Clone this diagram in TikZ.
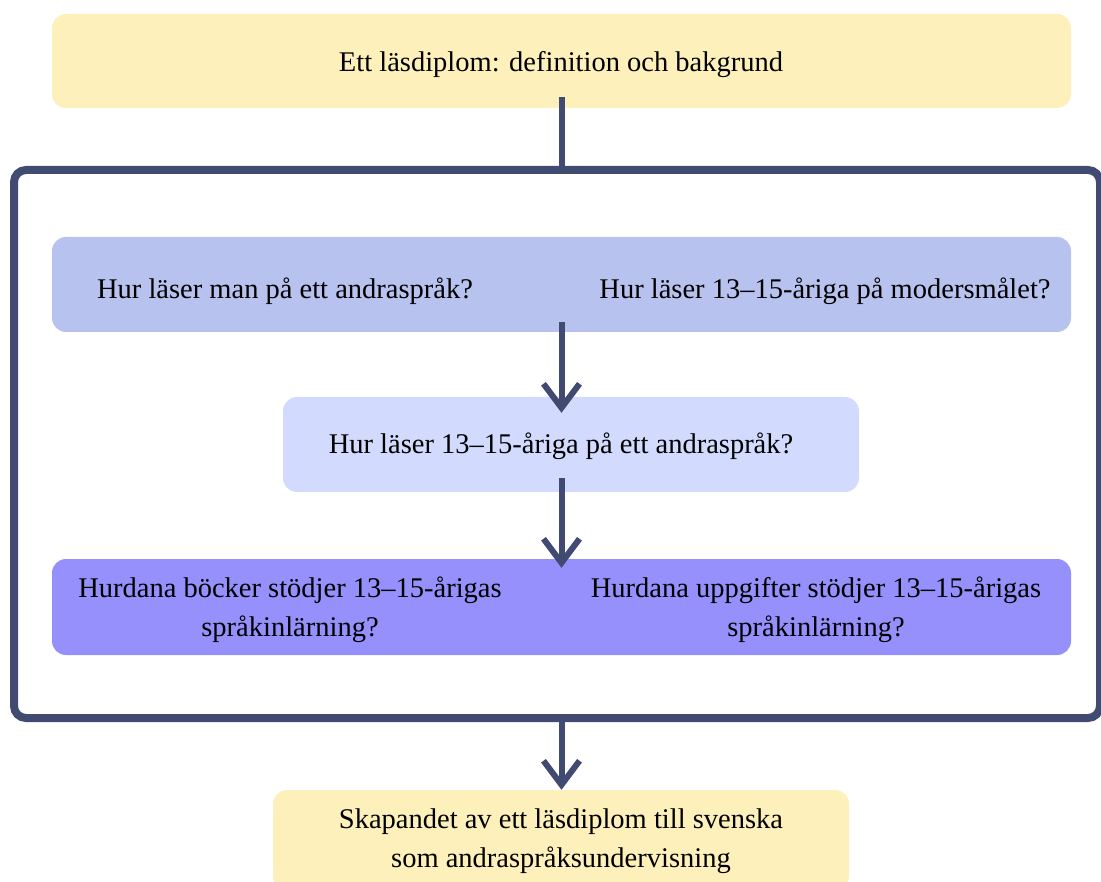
\documentclass[tikz,border=0pt]{standalone}
\usepackage{fontspec}
\setmainfont{Liberation Serif}
\usetikzlibrary{arrows.meta}
\definecolor{cyellow}{HTML}{FDF0BB}
\definecolor{crowa}{HTML}{B8C2EE}
\definecolor{crowb}{HTML}{D2DBFD}
\definecolor{crowc}{HTML}{9590FC}
\definecolor{cline}{HTML}{414A70}
\begin{document}
\begin{tikzpicture}[x=1pt,y=-1pt,
  box/.style={draw=none,rounded corners=14pt,inner sep=0pt},
  txt/.style={font=\fontsize{28.5}{39}\selectfont,inner sep=0pt,align=center,text=black},
  conn/.style={draw=cline,line width=6pt},
  arr/.style={conn,-{Straight Barb[length=24pt,width=36pt,line width=6pt]}}]
\useasboundingbox (0,0) rectangle (1101,882);
% boxes
\node[box,fill=cyellow,minimum width=1019pt,minimum height=94pt] (top) at (561.5,61) {};
\node[box,fill=crowa,minimum width=1019pt,minimum height=95pt] (rowa) at (561.5,284.5) {};
\node[box,fill=crowb,minimum width=576pt,minimum height=95pt] (rowb) at (571,444.5) {};
\node[box,fill=crowc,minimum width=1019pt,minimum height=96pt] (rowc) at (561.5,607) {};
\node[box,fill=cyellow,minimum width=576pt,minimum height=100pt] (bot) at (561,840) {};
\node[draw=cline,line width=8pt,rounded corners=12pt,minimum width=1086pt,minimum height=548pt,inner sep=0pt] (frame) at (557,444) {};
% texts
\node[txt,anchor=base] (ttop) at (561,72) {Ett läsdiplom: definition och bakgrund};
\node[txt,anchor=base] (ta1) at (285,299) {Hur läser man på ett andraspråk?};
\node[txt,anchor=base] (ta2) at (825,299) {Hur läser 13–15-åriga på modersmålet?};
\node[txt,anchor=base] (tb) at (561,454) {Hur läser 13–15-åriga på ett andraspråk?};
\node[txt] (tc1) at (290,610) {Hurdana böcker stödjer 13–15-årigas\\språkinlärning?};
\node[txt] (tc2) at (816,610) {Hurdana uppgifter stödjer 13–15-årigas\\språkinlärning?};
\node[txt] (tbot) at (561,841) {Skapandet av ett läsdiplom till svenska\\som andraspråksundervisning};
% connectors
\draw[conn] ([yshift=11pt]top.south) -- (top.south |- frame.north);
\draw[arr] ([yshift=10pt]rowa.south) -- ([yshift=-16pt]rowa.south |- rowb.north);
\draw[arr] ([yshift=14pt]rowa.south |- rowb.south) -- ([yshift=-9pt]rowc.north);
\draw[arr] (rowc.south |- frame.south) -- (rowc.south |- bot.north);
\end{tikzpicture}
\end{document}
